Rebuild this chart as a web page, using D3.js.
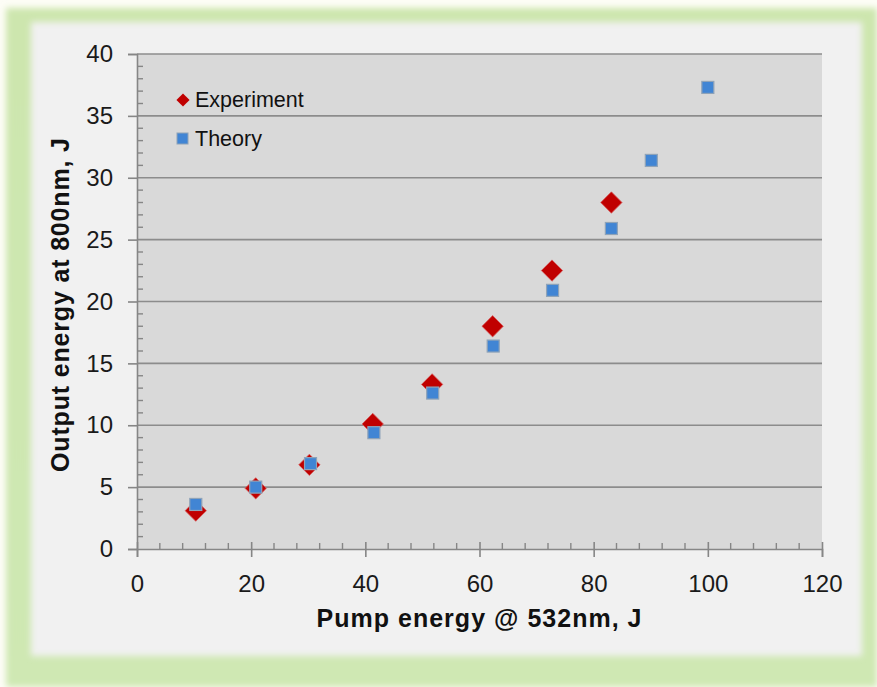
<!DOCTYPE html>
<html>
<head>
<meta charset="utf-8">
<script src="https://cdn.jsdelivr.net/npm/d3@7"></script>
<style>
  html, body { margin: 0; padding: 0; background: #fdfdf6; }
  svg { display: block; }
  text { font-family: "Liberation Sans", Arial, sans-serif; }
</style>
</head>
<body>
<svg id="chart" width="877" height="687"></svg>
<script>
// Pump energy (J) and output energy (J) for measured and modelled points
const experimentPump = [10.3, 20.8, 30.2, 41.3, 51.7, 62.3, 72.7, 83.1];
const experimentOutput = [3.1, 4.9, 6.8, 10.1, 13.3, 18.0, 22.5, 28.0];
const theoryPump = [10.3, 20.8, 30.4, 41.5, 51.8, 62.4, 72.8, 83.1, 90.1, 100.0];
const theoryOutput = [3.6, 5.0, 6.9, 9.4, 12.6, 16.4, 20.9, 25.9, 31.4, 37.3];
const xTicks = [0, 20, 40, 60, 80, 100, 120];
const yTicks = [0, 5, 10, 15, 20, 25, 30, 35, 40];
const seriesNames = ["Experiment", "Theory"];

const svg = d3.select("#chart");
const W = 877, H = 687;

// backdrop: green frame with a soft light panel
const defs = svg.append("defs");
const soft = defs.append("filter").attr("id", "soft")
  .attr("x", "-5%").attr("y", "-5%").attr("width", "110%").attr("height", "110%");
soft.append("feGaussianBlur").attr("stdDeviation", 3);
const greenGrad = defs.append("linearGradient").attr("id", "greenGrad")
  .attr("x1", 0).attr("y1", 0).attr("x2", 0).attr("y2", 1);
greenGrad.append("stop").attr("offset", "0%").attr("stop-color", "#cde6ae");
greenGrad.append("stop").attr("offset", "100%").attr("stop-color", "#cfe8b3");

svg.append("rect").attr("x", 0).attr("y", 0).attr("width", W).attr("height", H).attr("fill", "#fdfdf6");
svg.append("rect").attr("x", 6).attr("y", 8).attr("width", W - 6).attr("height", H - 8)
  .attr("fill", "url(#greenGrad)").attr("filter", "url(#soft)");
svg.append("rect").attr("x", 31).attr("y", 22).attr("width", 831).attr("height", 634)
  .attr("fill", "#f1f1f1").attr("filter", "url(#soft)");

// plot area
const x0 = 137, x1 = 822, y0 = 549, y1 = 54;
const x = d3.scaleLinear().domain([0, 120]).range([x0, x1]);
const y = d3.scaleLinear().domain([0, 40]).range([y0, y1]);

svg.append("rect").attr("x", x0).attr("y", y1).attr("width", x1 - x0).attr("height", y0 - y1)
  .attr("fill", "#d9d9d9");

// horizontal gridlines
svg.append("g").selectAll("line").data(yTicks.filter(d => d > 0)).join("line")
  .attr("x1", x0).attr("x2", x1)
  .attr("y1", d => y(d)).attr("y2", d => y(d))
  .attr("stroke", "#8c8c8c").attr("stroke-width", 1.6);

const axisColor = "#868686";

// y axis: major ticks outward, minor ticks inward
const yAxis = svg.append("g").attr("transform", `translate(${x0},0)`)
  .call(d3.axisLeft(y).tickValues(yTicks).tickSize(9).tickPadding(15));
yAxis.select(".domain").attr("stroke", axisColor).attr("stroke-width", 1.6);
yAxis.selectAll(".tick line").attr("stroke", axisColor).attr("stroke-width", 1.6);
yAxis.selectAll(".tick text").attr("font-size", 24).attr("fill", "#1a1a1a");
svg.append("g").selectAll("line")
  .data(d3.range(0, 41, 1).filter(d => d % 5 !== 0)).join("line")
  .attr("x1", x0).attr("x2", x0 + 6)
  .attr("y1", d => y(d)).attr("y2", d => y(d))
  .attr("stroke", axisColor).attr("stroke-width", 1.4);

// x axis: major ticks cross the axis, minor ticks point up
const xAxis = svg.append("g").attr("transform", `translate(0,${y0})`)
  .call(d3.axisBottom(x).tickValues(xTicks).tickSize(8).tickPadding(18));
xAxis.select(".domain").attr("stroke", axisColor).attr("stroke-width", 1.6);
xAxis.selectAll(".tick line").attr("stroke", axisColor).attr("stroke-width", 1.6).attr("y1", -7);
xAxis.selectAll(".tick text").attr("font-size", 24).attr("fill", "#1a1a1a");
svg.append("g").selectAll("line")
  .data(d3.range(0, 121, 4).filter(d => d % 20 !== 0)).join("line")
  .attr("x1", d => x(d)).attr("x2", d => x(d))
  .attr("y1", y0).attr("y2", y0 - 6)
  .attr("stroke", axisColor).attr("stroke-width", 1.4);

// axis titles
svg.append("text").attr("x", 479).attr("y", 627).attr("text-anchor", "middle")
  .attr("font-size", 25).attr("font-weight", "bold").attr("fill", "#111")
  .attr("textLength", 325).attr("lengthAdjust", "spacing")
  .text("Pump energy @ 532nm, J");
svg.append("text").attr("transform", "translate(69,305) rotate(-90)").attr("text-anchor", "middle")
  .attr("font-size", 25).attr("font-weight", "bold").attr("fill", "#111")
  .attr("textLength", 334).attr("lengthAdjust", "spacing")
  .text("Output energy at 800nm, J");

// markers
const diamond = d3.symbol().type(d3.symbolDiamond2);
const expData = experimentPump.map((p, i) => ({ p, o: experimentOutput[i] }));
const thData = theoryPump.map((p, i) => ({ p, o: theoryOutput[i] }));

svg.append("g").selectAll("path").data(expData).join("path")
  .attr("transform", d => `translate(${x(d.p)},${y(d.o)})`)
  .attr("d", diamond.size(290)())
  .attr("fill", "#c00000").attr("stroke", "#d65a5a").attr("stroke-width", 0.8);

svg.append("g").selectAll("rect").data(thData).join("rect")
  .attr("x", d => x(d.p) - 6).attr("y", d => y(d.o) - 6)
  .attr("width", 12).attr("height", 12)
  .attr("fill", "#4185d4").attr("stroke", "#8fa3b8").attr("stroke-width", 1.2);

// legend
const legend = svg.append("g");
legend.append("path").attr("transform", "translate(183,100)")
  .attr("d", d3.symbol().type(d3.symbolDiamond2).size(110)())
  .attr("fill", "#c00000");
legend.append("rect").attr("x", 177).attr("y", 133).attr("width", 11).attr("height", 11)
  .attr("fill", "#4185d4").attr("stroke", "#8fa3b8").attr("stroke-width", 1);
legend.selectAll("text.lg").data(seriesNames).join("text").attr("class", "lg")
  .attr("x", 195).attr("y", (d, i) => 107 + i * 39)
  .attr("font-size", 21.5).attr("fill", "#111")
  .text(d => d);
</script>
</body>
</html>
